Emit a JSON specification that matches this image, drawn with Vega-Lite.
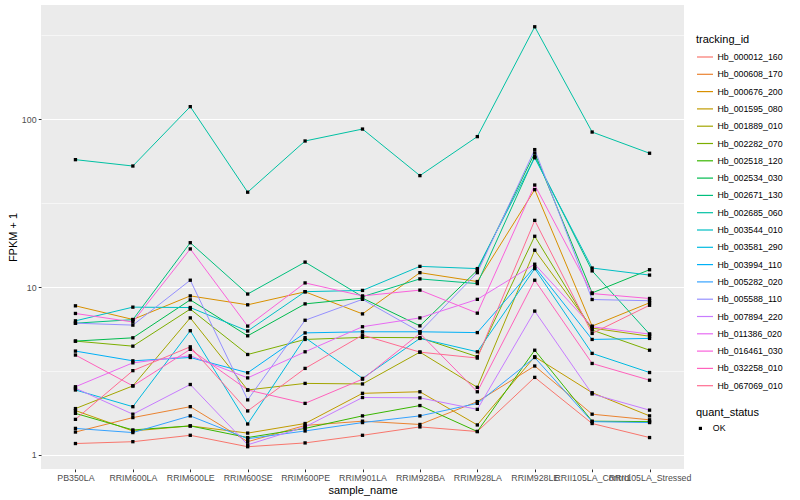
{
"$schema": "https://vega.github.io/schema/vega-lite/v6.json",
"width": 643,
"height": 464,
"autosize": {"type": "none"},
"padding": {"left": 41, "top": 5, "right": 116, "bottom": 31},
"background": "white",
"config": {
  "font": "Liberation Sans",
  "view": {"fill": "#EBEBEB", "stroke": null},
  "axis": {"domain": false, "gridColor": "white", "gridWidth": 1.1, "tickColor": "#333333", "tickSize": 2.75, "tickWidth": 1, "labelColor": "#4D4D4D", "labelFontSize": 8.8, "titleFontSize": 11, "titleFontWeight": "normal", "titleColor": "black", "labelPadding": 2.2},
  "legend": {"padding": 0, "titleFontSize": 11, "titleFontWeight": "normal", "titleColor": "black", "labelFontSize": 8.8, "labelColor": "black", "titlePadding": 4}
},
"data": {"values": [
{"id":"Hb_000012_160","sample":"PB350LA","fpkm":1.17,"status":"OK"},
{"id":"Hb_000012_160","sample":"RRIM600LA","fpkm":1.20,"status":"OK"},
{"id":"Hb_000012_160","sample":"RRIM600LE","fpkm":1.31,"status":"OK"},
{"id":"Hb_000012_160","sample":"RRIM600SE","fpkm":1.12,"status":"OK"},
{"id":"Hb_000012_160","sample":"RRIM600PE","fpkm":1.18,"status":"OK"},
{"id":"Hb_000012_160","sample":"RRIM901LA","fpkm":1.31,"status":"OK"},
{"id":"Hb_000012_160","sample":"RRIM928BA","fpkm":1.47,"status":"OK"},
{"id":"Hb_000012_160","sample":"RRIM928LA","fpkm":1.38,"status":"OK"},
{"id":"Hb_000012_160","sample":"RRIM928LE","fpkm":2.90,"status":"OK"},
{"id":"Hb_000012_160","sample":"RRII105LA_Control","fpkm":1.54,"status":"OK"},
{"id":"Hb_000012_160","sample":"RRII105LA_Stressed","fpkm":1.27,"status":"OK"},
{"id":"Hb_000608_170","sample":"PB350LA","fpkm":1.37,"status":"OK"},
{"id":"Hb_000608_170","sample":"RRIM600LA","fpkm":1.67,"status":"OK"},
{"id":"Hb_000608_170","sample":"RRIM600LE","fpkm":1.94,"status":"OK"},
{"id":"Hb_000608_170","sample":"RRIM600SE","fpkm":1.20,"status":"OK"},
{"id":"Hb_000608_170","sample":"RRIM600PE","fpkm":1.50,"status":"OK"},
{"id":"Hb_000608_170","sample":"RRIM901LA","fpkm":1.59,"status":"OK"},
{"id":"Hb_000608_170","sample":"RRIM928BA","fpkm":1.52,"status":"OK"},
{"id":"Hb_000608_170","sample":"RRIM928LA","fpkm":2.08,"status":"OK"},
{"id":"Hb_000608_170","sample":"RRIM928LE","fpkm":3.39,"status":"OK"},
{"id":"Hb_000608_170","sample":"RRII105LA_Control","fpkm":1.75,"status":"OK"},
{"id":"Hb_000608_170","sample":"RRII105LA_Stressed","fpkm":1.62,"status":"OK"},
{"id":"Hb_000676_200","sample":"PB350LA","fpkm":7.74,"status":"OK"},
{"id":"Hb_000676_200","sample":"RRIM600LA","fpkm":6.42,"status":"OK"},
{"id":"Hb_000676_200","sample":"RRIM600LE","fpkm":8.87,"status":"OK"},
{"id":"Hb_000676_200","sample":"RRIM600SE","fpkm":7.85,"status":"OK"},
{"id":"Hb_000676_200","sample":"RRIM600PE","fpkm":9.38,"status":"OK"},
{"id":"Hb_000676_200","sample":"RRIM901LA","fpkm":6.93,"status":"OK"},
{"id":"Hb_000676_200","sample":"RRIM928BA","fpkm":12.2,"status":"OK"},
{"id":"Hb_000676_200","sample":"RRIM928LA","fpkm":10.8,"status":"OK"},
{"id":"Hb_000676_200","sample":"RRIM928LE","fpkm":38.1,"status":"OK"},
{"id":"Hb_000676_200","sample":"RRII105LA_Control","fpkm":5.86,"status":"OK"},
{"id":"Hb_000676_200","sample":"RRII105LA_Stressed","fpkm":8.07,"status":"OK"},
{"id":"Hb_001595_080","sample":"PB350LA","fpkm":1.84,"status":"OK"},
{"id":"Hb_001595_080","sample":"RRIM600LA","fpkm":1.39,"status":"OK"},
{"id":"Hb_001595_080","sample":"RRIM600LE","fpkm":1.49,"status":"OK"},
{"id":"Hb_001595_080","sample":"RRIM600SE","fpkm":1.35,"status":"OK"},
{"id":"Hb_001595_080","sample":"RRIM600PE","fpkm":1.54,"status":"OK"},
{"id":"Hb_001595_080","sample":"RRIM901LA","fpkm":2.33,"status":"OK"},
{"id":"Hb_001595_080","sample":"RRIM928BA","fpkm":2.38,"status":"OK"},
{"id":"Hb_001595_080","sample":"RRIM928LA","fpkm":1.51,"status":"OK"},
{"id":"Hb_001595_080","sample":"RRIM928LE","fpkm":3.85,"status":"OK"},
{"id":"Hb_001595_080","sample":"RRII105LA_Control","fpkm":2.35,"status":"OK"},
{"id":"Hb_001595_080","sample":"RRII105LA_Stressed","fpkm":1.71,"status":"OK"},
{"id":"Hb_001889_010","sample":"PB350LA","fpkm":1.89,"status":"OK"},
{"id":"Hb_001889_010","sample":"RRIM600LA","fpkm":2.58,"status":"OK"},
{"id":"Hb_001889_010","sample":"RRIM600LE","fpkm":6.56,"status":"OK"},
{"id":"Hb_001889_010","sample":"RRIM600SE","fpkm":2.44,"status":"OK"},
{"id":"Hb_001889_010","sample":"RRIM600PE","fpkm":2.67,"status":"OK"},
{"id":"Hb_001889_010","sample":"RRIM901LA","fpkm":2.65,"status":"OK"},
{"id":"Hb_001889_010","sample":"RRIM928BA","fpkm":4.10,"status":"OK"},
{"id":"Hb_001889_010","sample":"RRIM928LA","fpkm":2.53,"status":"OK"},
{"id":"Hb_001889_010","sample":"RRIM928LE","fpkm":16.6,"status":"OK"},
{"id":"Hb_001889_010","sample":"RRII105LA_Control","fpkm":5.70,"status":"OK"},
{"id":"Hb_001889_010","sample":"RRII105LA_Stressed","fpkm":5.10,"status":"OK"},
{"id":"Hb_002282_070","sample":"PB350LA","fpkm":4.77,"status":"OK"},
{"id":"Hb_002282_070","sample":"RRIM600LA","fpkm":4.45,"status":"OK"},
{"id":"Hb_002282_070","sample":"RRIM600LE","fpkm":7.40,"status":"OK"},
{"id":"Hb_002282_070","sample":"RRIM600SE","fpkm":3.97,"status":"OK"},
{"id":"Hb_002282_070","sample":"RRIM600PE","fpkm":4.88,"status":"OK"},
{"id":"Hb_002282_070","sample":"RRIM901LA","fpkm":5.02,"status":"OK"},
{"id":"Hb_002282_070","sample":"RRIM928BA","fpkm":5.00,"status":"OK"},
{"id":"Hb_002282_070","sample":"RRIM928LA","fpkm":3.85,"status":"OK"},
{"id":"Hb_002282_070","sample":"RRIM928LE","fpkm":20.1,"status":"OK"},
{"id":"Hb_002282_070","sample":"RRII105LA_Control","fpkm":5.55,"status":"OK"},
{"id":"Hb_002282_070","sample":"RRII105LA_Stressed","fpkm":4.21,"status":"OK"},
{"id":"Hb_002518_120","sample":"PB350LA","fpkm":1.77,"status":"OK"},
{"id":"Hb_002518_120","sample":"RRIM600LA","fpkm":1.41,"status":"OK"},
{"id":"Hb_002518_120","sample":"RRIM600LE","fpkm":1.49,"status":"OK"},
{"id":"Hb_002518_120","sample":"RRIM600SE","fpkm":1.27,"status":"OK"},
{"id":"Hb_002518_120","sample":"RRIM600PE","fpkm":1.44,"status":"OK"},
{"id":"Hb_002518_120","sample":"RRIM901LA","fpkm":1.71,"status":"OK"},
{"id":"Hb_002518_120","sample":"RRIM928BA","fpkm":1.97,"status":"OK"},
{"id":"Hb_002518_120","sample":"RRIM928LA","fpkm":1.38,"status":"OK"},
{"id":"Hb_002518_120","sample":"RRIM928LE","fpkm":4.21,"status":"OK"},
{"id":"Hb_002518_120","sample":"RRII105LA_Control","fpkm":1.59,"status":"OK"},
{"id":"Hb_002518_120","sample":"RRII105LA_Stressed","fpkm":1.58,"status":"OK"},
{"id":"Hb_002534_030","sample":"PB350LA","fpkm":4.77,"status":"OK"},
{"id":"Hb_002534_030","sample":"RRIM600LA","fpkm":4.99,"status":"OK"},
{"id":"Hb_002534_030","sample":"RRIM600LE","fpkm":8.40,"status":"OK"},
{"id":"Hb_002534_030","sample":"RRIM600SE","fpkm":5.13,"status":"OK"},
{"id":"Hb_002534_030","sample":"RRIM600PE","fpkm":7.95,"status":"OK"},
{"id":"Hb_002534_030","sample":"RRIM901LA","fpkm":8.60,"status":"OK"},
{"id":"Hb_002534_030","sample":"RRIM928BA","fpkm":5.88,"status":"OK"},
{"id":"Hb_002534_030","sample":"RRIM928LA","fpkm":12.6,"status":"OK"},
{"id":"Hb_002534_030","sample":"RRIM928LE","fpkm":63.0,"status":"OK"},
{"id":"Hb_002534_030","sample":"RRII105LA_Control","fpkm":9.24,"status":"OK"},
{"id":"Hb_002534_030","sample":"RRII105LA_Stressed","fpkm":12.7,"status":"OK"},
{"id":"Hb_002671_130","sample":"PB350LA","fpkm":6.10,"status":"OK"},
{"id":"Hb_002671_130","sample":"RRIM600LA","fpkm":6.40,"status":"OK"},
{"id":"Hb_002671_130","sample":"RRIM600LE","fpkm":18.4,"status":"OK"},
{"id":"Hb_002671_130","sample":"RRIM600SE","fpkm":9.10,"status":"OK"},
{"id":"Hb_002671_130","sample":"RRIM600PE","fpkm":14.1,"status":"OK"},
{"id":"Hb_002671_130","sample":"RRIM901LA","fpkm":8.77,"status":"OK"},
{"id":"Hb_002671_130","sample":"RRIM928BA","fpkm":11.2,"status":"OK"},
{"id":"Hb_002671_130","sample":"RRIM928LA","fpkm":10.5,"status":"OK"},
{"id":"Hb_002671_130","sample":"RRIM928LE","fpkm":60.0,"status":"OK"},
{"id":"Hb_002671_130","sample":"RRII105LA_Control","fpkm":12.5,"status":"OK"},
{"id":"Hb_002671_130","sample":"RRII105LA_Stressed","fpkm":5.25,"status":"OK"},
{"id":"Hb_002685_060","sample":"PB350LA","fpkm":57.5,"status":"OK"},
{"id":"Hb_002685_060","sample":"RRIM600LA","fpkm":52.7,"status":"OK"},
{"id":"Hb_002685_060","sample":"RRIM600LE","fpkm":119,"status":"OK"},
{"id":"Hb_002685_060","sample":"RRIM600SE","fpkm":36.8,"status":"OK"},
{"id":"Hb_002685_060","sample":"RRIM600PE","fpkm":74.3,"status":"OK"},
{"id":"Hb_002685_060","sample":"RRIM901LA","fpkm":87.5,"status":"OK"},
{"id":"Hb_002685_060","sample":"RRIM928BA","fpkm":46.2,"status":"OK"},
{"id":"Hb_002685_060","sample":"RRIM928LA","fpkm":78.9,"status":"OK"},
{"id":"Hb_002685_060","sample":"RRIM928LE","fpkm":356,"status":"OK"},
{"id":"Hb_002685_060","sample":"RRII105LA_Control","fpkm":84.0,"status":"OK"},
{"id":"Hb_002685_060","sample":"RRII105LA_Stressed","fpkm":62.8,"status":"OK"},
{"id":"Hb_003544_010","sample":"PB350LA","fpkm":6.30,"status":"OK"},
{"id":"Hb_003544_010","sample":"RRIM600LA","fpkm":7.60,"status":"OK"},
{"id":"Hb_003544_010","sample":"RRIM600LE","fpkm":7.56,"status":"OK"},
{"id":"Hb_003544_010","sample":"RRIM600SE","fpkm":5.48,"status":"OK"},
{"id":"Hb_003544_010","sample":"RRIM600PE","fpkm":9.40,"status":"OK"},
{"id":"Hb_003544_010","sample":"RRIM901LA","fpkm":9.56,"status":"OK"},
{"id":"Hb_003544_010","sample":"RRIM928BA","fpkm":13.3,"status":"OK"},
{"id":"Hb_003544_010","sample":"RRIM928LA","fpkm":12.9,"status":"OK"},
{"id":"Hb_003544_010","sample":"RRIM928LE","fpkm":59.0,"status":"OK"},
{"id":"Hb_003544_010","sample":"RRII105LA_Control","fpkm":13.0,"status":"OK"},
{"id":"Hb_003544_010","sample":"RRII105LA_Stressed","fpkm":11.8,"status":"OK"},
{"id":"Hb_003581_290","sample":"PB350LA","fpkm":2.44,"status":"OK"},
{"id":"Hb_003581_290","sample":"RRIM600LA","fpkm":1.94,"status":"OK"},
{"id":"Hb_003581_290","sample":"RRIM600LE","fpkm":5.50,"status":"OK"},
{"id":"Hb_003581_290","sample":"RRIM600SE","fpkm":1.53,"status":"OK"},
{"id":"Hb_003581_290","sample":"RRIM600PE","fpkm":5.00,"status":"OK"},
{"id":"Hb_003581_290","sample":"RRIM901LA","fpkm":2.86,"status":"OK"},
{"id":"Hb_003581_290","sample":"RRIM928BA","fpkm":4.95,"status":"OK"},
{"id":"Hb_003581_290","sample":"RRIM928LA","fpkm":4.12,"status":"OK"},
{"id":"Hb_003581_290","sample":"RRIM928LE","fpkm":12.9,"status":"OK"},
{"id":"Hb_003581_290","sample":"RRII105LA_Control","fpkm":4.03,"status":"OK"},
{"id":"Hb_003581_290","sample":"RRII105LA_Stressed","fpkm":3.10,"status":"OK"},
{"id":"Hb_003994_110","sample":"PB350LA","fpkm":4.16,"status":"OK"},
{"id":"Hb_003994_110","sample":"RRIM600LA","fpkm":3.64,"status":"OK"},
{"id":"Hb_003994_110","sample":"RRIM600LE","fpkm":3.81,"status":"OK"},
{"id":"Hb_003994_110","sample":"RRIM600SE","fpkm":3.09,"status":"OK"},
{"id":"Hb_003994_110","sample":"RRIM600PE","fpkm":5.34,"status":"OK"},
{"id":"Hb_003994_110","sample":"RRIM901LA","fpkm":5.42,"status":"OK"},
{"id":"Hb_003994_110","sample":"RRIM928BA","fpkm":5.42,"status":"OK"},
{"id":"Hb_003994_110","sample":"RRIM928LA","fpkm":5.36,"status":"OK"},
{"id":"Hb_003994_110","sample":"RRIM928LE","fpkm":13.2,"status":"OK"},
{"id":"Hb_003994_110","sample":"RRII105LA_Control","fpkm":4.88,"status":"OK"},
{"id":"Hb_003994_110","sample":"RRII105LA_Stressed","fpkm":4.95,"status":"OK"},
{"id":"Hb_005282_020","sample":"PB350LA","fpkm":1.44,"status":"OK"},
{"id":"Hb_005282_020","sample":"RRIM600LA","fpkm":1.36,"status":"OK"},
{"id":"Hb_005282_020","sample":"RRIM600LE","fpkm":1.71,"status":"OK"},
{"id":"Hb_005282_020","sample":"RRIM600SE","fpkm":1.25,"status":"OK"},
{"id":"Hb_005282_020","sample":"RRIM600PE","fpkm":1.39,"status":"OK"},
{"id":"Hb_005282_020","sample":"RRIM901LA","fpkm":1.56,"status":"OK"},
{"id":"Hb_005282_020","sample":"RRIM928BA","fpkm":1.71,"status":"OK"},
{"id":"Hb_005282_020","sample":"RRIM928LA","fpkm":2.03,"status":"OK"},
{"id":"Hb_005282_020","sample":"RRIM928LE","fpkm":3.81,"status":"OK"},
{"id":"Hb_005282_020","sample":"RRII105LA_Control","fpkm":1.58,"status":"OK"},
{"id":"Hb_005282_020","sample":"RRII105LA_Stressed","fpkm":1.56,"status":"OK"},
{"id":"Hb_005588_110","sample":"PB350LA","fpkm":6.10,"status":"OK"},
{"id":"Hb_005588_110","sample":"RRIM600LA","fpkm":5.94,"status":"OK"},
{"id":"Hb_005588_110","sample":"RRIM600LE","fpkm":11.0,"status":"OK"},
{"id":"Hb_005588_110","sample":"RRIM600SE","fpkm":2.13,"status":"OK"},
{"id":"Hb_005588_110","sample":"RRIM600PE","fpkm":6.35,"status":"OK"},
{"id":"Hb_005588_110","sample":"RRIM901LA","fpkm":8.46,"status":"OK"},
{"id":"Hb_005588_110","sample":"RRIM928BA","fpkm":5.42,"status":"OK"},
{"id":"Hb_005588_110","sample":"RRIM928LA","fpkm":12.2,"status":"OK"},
{"id":"Hb_005588_110","sample":"RRIM928LE","fpkm":66.0,"status":"OK"},
{"id":"Hb_005588_110","sample":"RRII105LA_Control","fpkm":8.44,"status":"OK"},
{"id":"Hb_005588_110","sample":"RRII105LA_Stressed","fpkm":8.30,"status":"OK"},
{"id":"Hb_007894_220","sample":"PB350LA","fpkm":2.50,"status":"OK"},
{"id":"Hb_007894_220","sample":"RRIM600LA","fpkm":1.75,"status":"OK"},
{"id":"Hb_007894_220","sample":"RRIM600LE","fpkm":2.63,"status":"OK"},
{"id":"Hb_007894_220","sample":"RRIM600SE","fpkm":1.15,"status":"OK"},
{"id":"Hb_007894_220","sample":"RRIM600PE","fpkm":1.47,"status":"OK"},
{"id":"Hb_007894_220","sample":"RRIM901LA","fpkm":2.20,"status":"OK"},
{"id":"Hb_007894_220","sample":"RRIM928BA","fpkm":2.19,"status":"OK"},
{"id":"Hb_007894_220","sample":"RRIM928LA","fpkm":1.87,"status":"OK"},
{"id":"Hb_007894_220","sample":"RRIM928LE","fpkm":7.20,"status":"OK"},
{"id":"Hb_007894_220","sample":"RRII105LA_Control","fpkm":2.31,"status":"OK"},
{"id":"Hb_007894_220","sample":"RRII105LA_Stressed","fpkm":1.85,"status":"OK"},
{"id":"Hb_011386_020","sample":"PB350LA","fpkm":2.55,"status":"OK"},
{"id":"Hb_011386_020","sample":"RRIM600LA","fpkm":3.54,"status":"OK"},
{"id":"Hb_011386_020","sample":"RRIM600LE","fpkm":3.90,"status":"OK"},
{"id":"Hb_011386_020","sample":"RRIM600SE","fpkm":2.88,"status":"OK"},
{"id":"Hb_011386_020","sample":"RRIM600PE","fpkm":4.12,"status":"OK"},
{"id":"Hb_011386_020","sample":"RRIM901LA","fpkm":5.81,"status":"OK"},
{"id":"Hb_011386_020","sample":"RRIM928BA","fpkm":6.56,"status":"OK"},
{"id":"Hb_011386_020","sample":"RRIM928LA","fpkm":8.46,"status":"OK"},
{"id":"Hb_011386_020","sample":"RRIM928LE","fpkm":13.7,"status":"OK"},
{"id":"Hb_011386_020","sample":"RRII105LA_Control","fpkm":5.81,"status":"OK"},
{"id":"Hb_011386_020","sample":"RRII105LA_Stressed","fpkm":5.25,"status":"OK"},
{"id":"Hb_016461_030","sample":"PB350LA","fpkm":6.97,"status":"OK"},
{"id":"Hb_016461_030","sample":"RRIM600LA","fpkm":6.20,"status":"OK"},
{"id":"Hb_016461_030","sample":"RRIM600LE","fpkm":16.9,"status":"OK"},
{"id":"Hb_016461_030","sample":"RRIM600SE","fpkm":5.86,"status":"OK"},
{"id":"Hb_016461_030","sample":"RRIM600PE","fpkm":10.6,"status":"OK"},
{"id":"Hb_016461_030","sample":"RRIM901LA","fpkm":8.87,"status":"OK"},
{"id":"Hb_016461_030","sample":"RRIM928BA","fpkm":9.60,"status":"OK"},
{"id":"Hb_016461_030","sample":"RRIM928LA","fpkm":7.00,"status":"OK"},
{"id":"Hb_016461_030","sample":"RRIM928LE","fpkm":40.6,"status":"OK"},
{"id":"Hb_016461_030","sample":"RRII105LA_Control","fpkm":9.16,"status":"OK"},
{"id":"Hb_016461_030","sample":"RRII105LA_Stressed","fpkm":8.56,"status":"OK"},
{"id":"Hb_032258_010","sample":"PB350LA","fpkm":3.94,"status":"OK"},
{"id":"Hb_032258_010","sample":"RRIM600LA","fpkm":2.58,"status":"OK"},
{"id":"Hb_032258_010","sample":"RRIM600LE","fpkm":4.26,"status":"OK"},
{"id":"Hb_032258_010","sample":"RRIM600SE","fpkm":2.44,"status":"OK"},
{"id":"Hb_032258_010","sample":"RRIM600PE","fpkm":2.03,"status":"OK"},
{"id":"Hb_032258_010","sample":"RRIM901LA","fpkm":2.83,"status":"OK"},
{"id":"Hb_032258_010","sample":"RRIM928BA","fpkm":5.30,"status":"OK"},
{"id":"Hb_032258_010","sample":"RRIM928LA","fpkm":2.38,"status":"OK"},
{"id":"Hb_032258_010","sample":"RRIM928LE","fpkm":11.0,"status":"OK"},
{"id":"Hb_032258_010","sample":"RRII105LA_Control","fpkm":3.51,"status":"OK"},
{"id":"Hb_032258_010","sample":"RRII105LA_Stressed","fpkm":2.79,"status":"OK"},
{"id":"Hb_067069_010","sample":"PB350LA","fpkm":1.63,"status":"OK"},
{"id":"Hb_067069_010","sample":"RRIM600LA","fpkm":3.18,"status":"OK"},
{"id":"Hb_067069_010","sample":"RRIM600LE","fpkm":4.41,"status":"OK"},
{"id":"Hb_067069_010","sample":"RRIM600SE","fpkm":1.83,"status":"OK"},
{"id":"Hb_067069_010","sample":"RRIM600PE","fpkm":3.28,"status":"OK"},
{"id":"Hb_067069_010","sample":"RRIM901LA","fpkm":5.18,"status":"OK"},
{"id":"Hb_067069_010","sample":"RRIM928BA","fpkm":4.10,"status":"OK"},
{"id":"Hb_067069_010","sample":"RRIM928LA","fpkm":3.78,"status":"OK"},
{"id":"Hb_067069_010","sample":"RRIM928LE","fpkm":25.0,"status":"OK"},
{"id":"Hb_067069_010","sample":"RRII105LA_Control","fpkm":5.30,"status":"OK"},
{"id":"Hb_067069_010","sample":"RRII105LA_Stressed","fpkm":7.80,"status":"OK"}
]},
"encoding": {
  "x": {"field": "sample", "type": "nominal", "title": "sample_name",
        "sort": ["PB350LA","RRIM600LA","RRIM600LE","RRIM600SE","RRIM600PE","RRIM901LA","RRIM928BA","RRIM928LA","RRIM928LE","RRII105LA_Control","RRII105LA_Stressed"],
        "scale": {"type": "point", "padding": 0.6},
        "axis": {"labelAngle": 0, "labelOverlap": false, "labelBound": false, "labelFlush": false, "titlePadding": 2}},
  "y": {"field": "fpkm", "type": "quantitative", "title": "FPKM + 1",
        "scale": {"type": "log", "domain": [0.825, 480], "nice": false, "zero": false},
        "axis": {"values": [1, 3.1623, 10, 31.623, 100, 316.23],
                 "labelExpr": "(datum.value < 1.5 || (datum.value > 9 && datum.value < 11) || (datum.value > 90 && datum.value < 110)) ? format(datum.value, 'd') : ''",
                 "gridWidth": {"condition": {"test": "datum.value < 1.5 || (datum.value > 9 && datum.value < 11) || (datum.value > 90 && datum.value < 110)", "value": 1.1}, "value": 0.55},
                 "tickOpacity": {"condition": {"test": "datum.value < 1.5 || (datum.value > 9 && datum.value < 11) || (datum.value > 90 && datum.value < 110)", "value": 1}, "value": 0},
                 "titlePadding": 3}}
},
"layer": [
  {"mark": {"type": "line", "strokeWidth": 1},
   "encoding": {
     "color": {"field": "id", "type": "nominal", "title": "tracking_id",
       "scale": {"domain": ["Hb_000012_160","Hb_000608_170","Hb_000676_200","Hb_001595_080","Hb_001889_010","Hb_002282_070","Hb_002518_120","Hb_002534_030","Hb_002671_130","Hb_002685_060","Hb_003544_010","Hb_003581_290","Hb_003994_110","Hb_005282_020","Hb_005588_110","Hb_007894_220","Hb_011386_020","Hb_016461_030","Hb_032258_010","Hb_067069_010"],
                 "range": ["#F8766D","#EA8331","#D89000","#C09B00","#A3A500","#7CAE00","#39B600","#00BB4E","#00BF7D","#00C1A3","#00BFC4","#00BAE0","#00B0F6","#35A2FF","#9590FF","#C77CFF","#E76BF3","#FA62DB","#FF62BC","#FF6C91"]},
       "legend": {"orient": "none", "legendX": 655, "legendY": 29, "symbolType": "stroke", "symbolSize": 256, "symbolStrokeWidth": 1.2, "rowPadding": 3.3, "labelOffset": 3.5, "titlePadding": 3}}
   }},
  {"mark": {"type": "point", "filled": true, "color": "black", "size": 11, "opacity": 1},
   "encoding": {
     "shape": {"field": "status", "type": "nominal", "title": "quant_status",
       "scale": {"range": ["square"]},
       "legend": {"orient": "none", "legendX": 655, "legendY": 402, "symbolFillColor": "black", "symbolStrokeColor": "black", "symbolSize": 10, "symbolOpacity": 1, "labelOffset": 8, "rowPadding": 4, "titlePadding": 6}}
   }}
]
}
